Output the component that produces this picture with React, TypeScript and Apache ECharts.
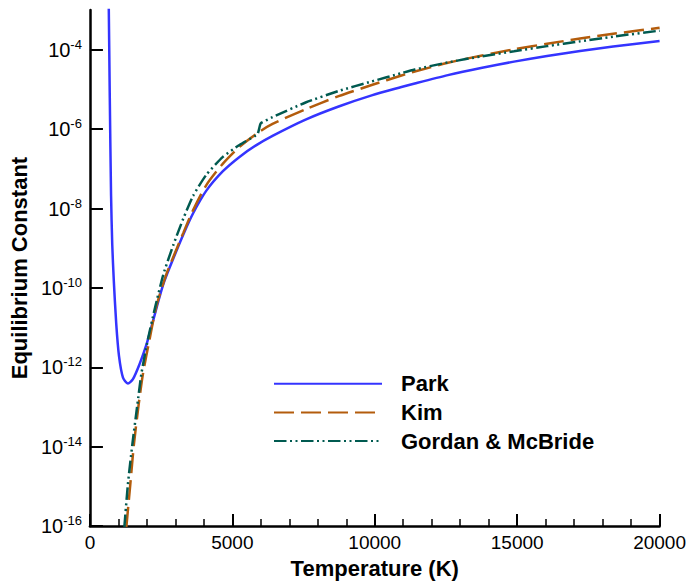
import React, { useEffect, useRef } from "react";
import * as echarts from "echarts";

// Temperature (K) and log10 of equilibrium constant
const parkT = [655, 662, 697, 742, 784, 836, 923, 1021, 1160, 1334, 1509, 1742, 1975, 2205, 2439, 2613, 2927, 3275, 3623, 4087, 4669, 5250, 5829, 6411, 7571, 8732, 9892, 10937, 11404, 12567, 13728, 14889, 16049, 17209, 18370, 20000];
const parkLog10K = [-2.8, -2.98, -5.21, -7.68, -8.92, -9.79, -10.9, -11.72, -12.26, -12.41, -12.3, -11.92, -11.45, -10.86, -10.24, -9.83, -9.26, -8.66, -8.12, -7.55, -7.06, -6.7, -6.41, -6.17, -5.76, -5.43, -5.15, -4.94, -4.85, -4.64, -4.46, -4.3, -4.16, -4.03, -3.92, -3.78];

const kimT = [1279, 1418, 1543, 1707, 1867, 2090, 2324, 2665, 2927, 3275, 3623, 4087, 4669, 5250, 5947, 6411, 7571, 8732, 9892, 10937, 11404, 12567, 13728, 14889, 16049, 17209, 18370, 20000];
const kimLog10K = [-16.02, -14.94, -13.95, -12.96, -12.14, -11.31, -10.49, -9.69, -9.22, -8.62, -8.04, -7.41, -6.87, -6.45, -6.07, -5.87, -5.5, -5.17, -4.89, -4.65, -4.55, -4.33, -4.15, -3.99, -3.85, -3.72, -3.6, -3.45];

const gordanT = [1209, 1334, 1488, 1662, 1812, 2031, 2289, 2578, 2927, 3275, 3623, 4087, 4669, 5250, 5829, 5888, 5968, 6003, 6411, 7571, 8732, 9892, 10937, 11404, 12567, 13728, 14889, 16049, 17209, 18370, 20000];
const gordanLog10K = [-16.02, -14.94, -13.95, -12.96, -12.14, -11.31, -10.49, -9.66, -8.92, -8.26, -7.68, -7.15, -6.7, -6.4, -6.16, -6.13, -5.91, -5.85, -5.7, -5.33, -5.04, -4.8, -4.59, -4.5, -4.32, -4.17, -4.04, -3.91, -3.79, -3.67, -3.52];

const seriesNames = ["Park", "Kim", "Gordan & McBride"];
const yTickExponents = [-16, -14, -12, -10, -8, -6, -4];
const xTickValues = [0, 5000, 10000, 15000, 20000];

const pairs = (xs: number[], ys: number[]) => xs.map((x, i) => [x, ys[i]]);

const FONT = "'Liberation Sans', Arial, Helvetica, sans-serif";

export default function App() {
  const ref = useRef<HTMLDivElement>(null);
  useEffect(() => {
    if (!ref.current) return;
    const chart = echarts.init(ref.current, undefined, { renderer: "svg" });
    chart.setOption({
      animation: false,
      backgroundColor: "#ffffff",
      textStyle: { fontFamily: FONT },
      grid: { left: 86, right: 29, top: 10, bottom: 48, containLabel: false },
      legend: {
        orient: "vertical",
        left: 273,
        top: 372.7,
        padding: 0,
        itemWidth: 108,
        itemHeight: 14,
        itemGap: 6.7,
        data: seriesNames,
        itemStyle: { opacity: 0, borderWidth: 0 },
        textStyle: {
          fontFamily: FONT,
          fontSize: 22,
          fontWeight: "bold",
          color: "#000",
          lineHeight: 22,
          padding: [0, 0, 0, 14],
        },
      },
      xAxis: {
        type: "value",
        min: 0,
        max: 20000,
        interval: 5000,
        name: "Temperature (K)",
        nameLocation: "middle",
        nameGap: 23,
        nameTextStyle: { fontFamily: FONT, fontSize: 22, fontWeight: "bold", color: "#000" },
        axisLine: { show: true, onZero: false, lineStyle: { color: "#000", width: 2.5 } },
        axisTick: { show: true, inside: true, length: 12, lineStyle: { color: "#000", width: 2 } },
        minorTick: { show: true, splitNumber: 5, length: 7, lineStyle: { color: "#000", width: 1.5 } },
        axisLabel: {
          fontFamily: FONT,
          fontSize: 19,
          color: "#000",
          margin: 7,
          customValues: xTickValues,
          formatter: (v: number) => String(Math.round(Number(v))),
        },
        splitLine: { show: false },
        minorSplitLine: { show: false },
      },
      yAxis: {
        type: "value",
        min: -16,
        max: -3,
        interval: 2,
        name: "Equilibrium Constant",
        nameLocation: "middle",
        nameGap: 52,
        nameTextStyle: { fontFamily: FONT, fontSize: 22, fontWeight: "bold", color: "#000" },
        axisLine: { show: true, onZero: false, lineStyle: { color: "#000", width: 2.5 } },
        axisTick: {
          show: true,
          inside: true,
          length: 13,
          lineStyle: { color: "#000", width: 2 },
          customValues: yTickExponents,
        },
        axisLabel: {
          customValues: yTickExponents,
          margin: 8,
          formatter: (v: number) => {
            const e = Math.round(Number(v));
            if (e % 2 !== 0) return "";
            return `{b|10}{s|${e}}`;
          },
          rich: {
            b: { fontFamily: FONT, fontSize: 20, lineHeight: 20, color: "#000" },
            s: { fontFamily: FONT, fontSize: 13, lineHeight: 13, color: "#000", padding: [0, 0, 11, 0] },
          },
        },
        splitLine: { show: false },
      },
      series: [
        {
          name: seriesNames[0],
          type: "line",
          data: pairs(parkT, parkLog10K),
          symbol: "none",
          smooth: 0.25,
          clip: true,
          lineStyle: { color: "#3434ff", width: 2.5, type: "solid" },
          itemStyle: { color: "#3434ff" },
          z: 3,
        },
        {
          name: seriesNames[1],
          type: "line",
          data: pairs(kimT, kimLog10K),
          symbol: "none",
          smooth: 0.25,
          clip: true,
          lineStyle: { color: "#b35c0c", width: 2.5, type: [20, 7], cap: "butt" },
          itemStyle: { color: "#b35c0c" },
          z: 4,
        },
        {
          name: seriesNames[2],
          type: "line",
          data: pairs(gordanT, gordanLog10K),
          symbol: "none",
          smooth: 0.2,
          clip: true,
          lineStyle: { color: "#005a50", width: 2.5, type: [12.5, 3.5, 2, 3.5, 2, 3.5], cap: "butt" },
          itemStyle: { color: "#005a50" },
          z: 5,
        },
      ],
    });
    return () => chart.dispose();
  }, []);
  return (
    <div
      ref={ref}
      style={{ position: "fixed", left: 0, top: 0, width: 689, height: 584, background: "#fff" }}
    />
  );
}
